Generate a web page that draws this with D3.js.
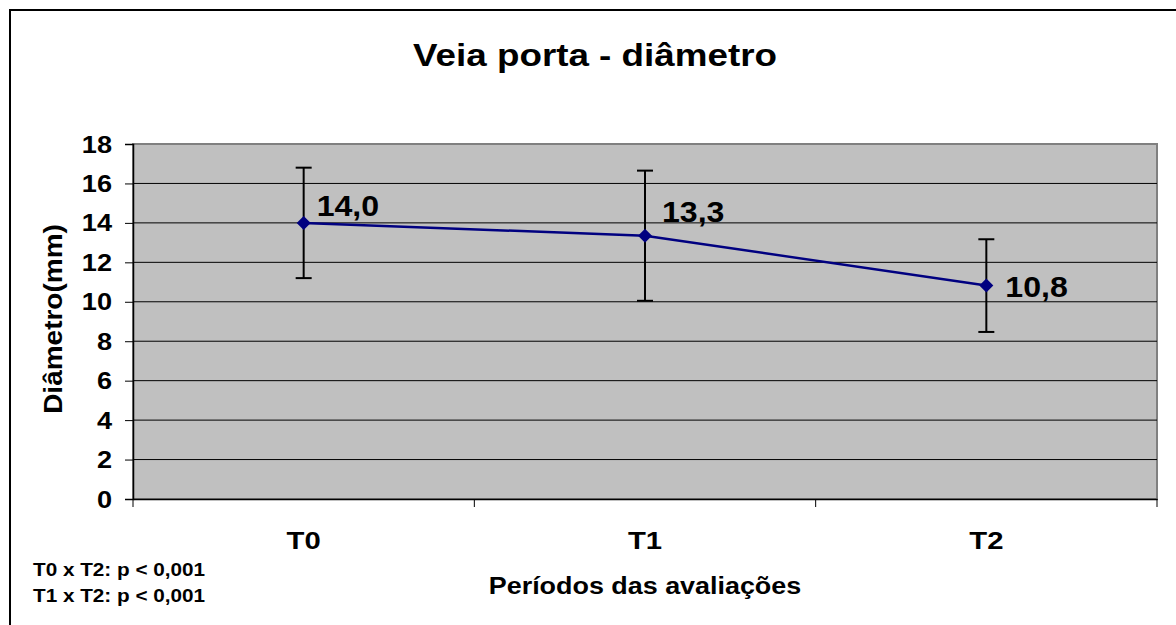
<!DOCTYPE html>
<html>
<head>
<meta charset="utf-8">
<script src="https://cdn.jsdelivr.net/npm/d3@7"></script>
<style>
  html, body { margin: 0; padding: 0; background: #ffffff; }
  svg { display: block; }
  text { font-family: Arial, "Liberation Sans", sans-serif; font-weight: bold; fill: #000; }
</style>
</head>
<body>
<script>
// ---- data ----
const categories = ["T0", "T1", "T2"];
const means = [14.0, 13.35, 10.82];
const errors = [2.8, 3.3, 2.35];
const valueLabels = ["14,0", "13,3", "10,8"];
const yTicks = [0, 2, 4, 6, 8, 10, 12, 14, 16, 18];
const notes = ["T0 x T2: p < 0,001", "T1 x T2: p < 0,001"];
const titleText = "Veia porta - diâmetro";
const xTitle = "Períodos das avaliações";
const yTitle = "Diâmetro(mm)";

// ---- layout ----
const W = 1176, H = 625;
const plot = { left: 133, right: 1157, top: 144, bottom: 499 };

const svg = d3.select("body").append("svg").attr("width", W).attr("height", H);

// helper: place text at (x,y) with horizontal stretch
function placeText(sel, xx, yy, sx, rot) {
  sel.attr("x", 0).attr("y", 0)
    .attr("transform", `translate(${xx},${yy})` + (rot ? ` rotate(${rot})` : "") + ` scale(${sx},1)`);
  return sel;
}

// outer chart border (extends beyond visible area)
svg.append("rect")
  .attr("x", 10).attr("y", 10).attr("width", 1300).attr("height", 800)
  .attr("fill", "#fff").attr("stroke", "#000").attr("stroke-width", 2);

const x = d3.scaleBand().domain(categories).range([plot.left, plot.right]).padding(0);
const y = d3.scaleLinear().domain([0, 18]).range([plot.bottom, plot.top]);

// plot area
svg.append("rect")
  .attr("x", plot.left).attr("y", plot.top)
  .attr("width", plot.right - plot.left).attr("height", plot.bottom - plot.top)
  .attr("fill", "#c0c0c0").attr("stroke", "#808080").attr("stroke-width", 2);

// gridlines
svg.append("g").selectAll("line").data(yTicks.filter(d => d > 0 && d < 18)).join("line")
  .attr("x1", plot.left).attr("x2", plot.right)
  .attr("y1", d => y(d)).attr("y2", d => y(d))
  .attr("stroke", "#000").attr("stroke-width", 1);

// y axis
const yAxis = svg.append("g").attr("transform", `translate(${plot.left},0)`)
  .call(d3.axisLeft(y).tickValues(yTicks).tickSize(8).tickPadding(13).tickFormat(d3.format("d")));
yAxis.select(".domain").attr("stroke", "#000").attr("stroke-width", 1.5);
yAxis.selectAll(".tick line").attr("stroke", "#000").attr("stroke-width", 1);
yAxis.selectAll(".tick text")
  .style("font-family", "Arial, 'Liberation Sans', sans-serif")
  .style("font-weight", "bold").style("font-size", "23px").attr("fill", "#000")
  .attr("x", 0).attr("dy", "0.35em")
  .attr("transform", "translate(-21,0) scale(1.18,1)");

// x axis
const xAxis = svg.append("g").attr("transform", `translate(0,${plot.bottom})`)
  .call(d3.axisBottom(x).tickSize(0));
xAxis.select(".domain").attr("stroke", "#000").attr("stroke-width", 1.5);
xAxis.selectAll(".tick text")
  .style("font-family", "Arial, 'Liberation Sans', sans-serif")
  .style("font-weight", "bold").style("font-size", "24px").attr("fill", "#000")
  .attr("y", 0).attr("dy", 0)
  .attr("transform", "translate(0,50) scale(1.22,1)");
// category boundary ticks
const bounds = categories.map(c => x(c)).concat([x(categories[categories.length - 1]) + x.bandwidth()]);
svg.append("g").selectAll("line").data(bounds).join("line")
  .attr("x1", d => d).attr("x2", d => d)
  .attr("y1", plot.bottom).attr("y2", plot.bottom + 8)
  .attr("stroke", "#000").attr("stroke-width", 1);

const cx = c => x(c) + x.bandwidth() / 2;

// error bars
const eb = svg.append("g");
categories.forEach((c, i) => {
  const px = cx(c);
  const hi = y(means[i] + errors[i]), lo = y(means[i] - errors[i]);
  eb.append("line").attr("x1", px).attr("x2", px).attr("y1", hi).attr("y2", lo)
    .attr("stroke", "#000").attr("stroke-width", 2);
  [hi, lo].forEach(yy => eb.append("line").attr("x1", px - 8).attr("x2", px + 8)
    .attr("y1", yy).attr("y2", yy).attr("stroke", "#000").attr("stroke-width", 2));
});

// line
const line = d3.line().x((d, i) => cx(categories[i])).y(d => y(d));
svg.append("path").datum(means).attr("d", line)
  .attr("fill", "none").attr("stroke", "#000080").attr("stroke-width", 2.5);

// markers
svg.append("g").selectAll("path").data(means).join("path")
  .attr("d", d3.symbol().type(d3.symbolDiamond2).size(125))
  .attr("transform", (d, i) => `translate(${cx(categories[i])},${y(d)})`)
  .attr("fill", "#000080");

// value labels
const labelOffsets = [[13, -7], [17, -14], [19, 11]];
svg.append("g").selectAll("text").data(means).join("text")
  .style("font-size", "30px")
  .text((d, i) => valueLabels[i])
  .each(function (d, i) {
    placeText(d3.select(this), cx(categories[i]) + labelOffsets[i][0], y(d) + labelOffsets[i][1], 1.07);
  });

// title
placeText(svg.append("text").attr("text-anchor", "middle")
  .style("font-size", "32px").text(titleText), 595, 66, 1.15);

// axis titles
placeText(svg.append("text").attr("text-anchor", "middle")
  .style("font-size", "23px").text(xTitle), 645, 594, 1.17);
placeText(svg.append("text").attr("text-anchor", "middle")
  .style("font-size", "25px").text(yTitle), 62, 319, 1.12, -90);

// notes
svg.append("g").selectAll("text").data(notes).join("text")
  .style("font-size", "18.5px").text(d => d)
  .each(function (d, i) { placeText(d3.select(this), 33, 576 + i * 26, 1.12); });
</script>
</body>
</html>
